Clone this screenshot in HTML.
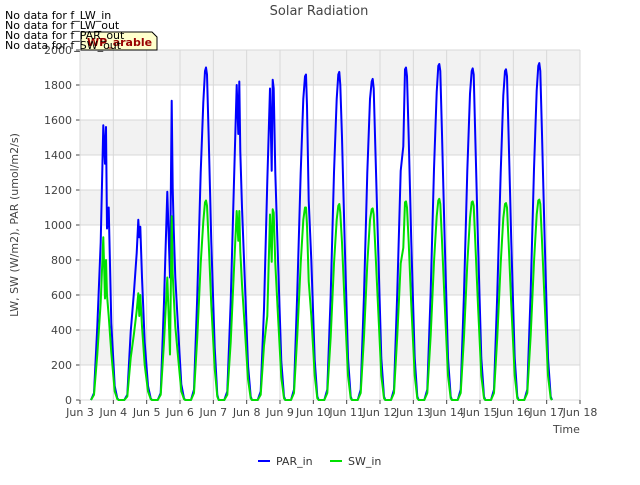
<!DOCTYPE html>
<html><head><meta charset="utf-8"><style>
body{margin:0;background:#fff;font-family:"Liberation Sans","DejaVu Sans",sans-serif}
</style></head><body>
<svg id="c" width="640" height="480" style="font-family:'DejaVu Sans','Liberation Sans',sans-serif">
</svg>
<script>
const xTicks=["Jun 3","Jun 4","Jun 5","Jun 6","Jun 7","Jun 8","Jun 9","Jun 10","Jun 11","Jun 12","Jun 13","Jun 14","Jun 15","Jun 16","Jun 17","Jun 18"];
const yTicks=[0,200,400,600,800,1000,1200,1400,1600,1800,2000];
const dayStarts=[3,4,5,6,7,8,9,10,11,12,13,14,15,16];
const hourOffsets=[0.33,0.42,0.52,0.62,0.7,0.75,0.78,0.81,0.86,0.94,1.04,1.12,1.16];
const parDays=[
[0,40,420,900,1570,1350,1560,980,1100,440,80,10,0],
[0,30,390,620,840,1030,930,990,700,330,80,10,0],
[0,40,560,1190,700,1710,1210,980,700,420,90,10,0],
[0,60,600,1300,1700,1880,1900,1860,1500,900,300,30,0],
[0,50,560,1250,1800,1520,1820,1420,1100,700,200,20,0],
[0,50,520,1250,1780,1310,1830,1780,1300,800,220,20,0],
[0,60,620,1300,1720,1850,1860,1680,1140,800,230,20,0],
[0,60,600,1300,1720,1860,1875,1800,1500,900,240,20,0],
[0,60,600,1300,1720,1820,1835,1780,1450,900,240,20,0],
[0,60,620,1310,1450,1890,1900,1850,1500,900,240,20,0],
[0,60,620,1320,1760,1910,1920,1880,1520,910,240,20,0],
[0,60,610,1310,1750,1880,1895,1860,1500,900,240,20,0],
[0,60,610,1300,1740,1880,1890,1850,1490,900,240,20,0],
[0,60,620,1320,1770,1910,1925,1880,1520,910,240,20,0]];
const swDays=[
[0,30,260,560,930,580,800,600,480,270,50,5,0],
[0,20,240,380,510,610,480,600,420,200,50,5,0],
[0,30,330,700,260,1050,720,600,420,250,50,5,0],
[0,40,360,780,1020,1130,1140,1110,900,540,180,20,0],
[0,30,330,750,1080,910,1080,850,660,420,120,10,0],
[0,30,310,480,1060,790,1090,1070,780,480,130,10,0],
[0,40,370,780,1030,1100,1100,1000,680,480,140,10,0],
[0,40,360,780,1030,1110,1120,1070,900,540,140,10,0],
[0,40,360,780,1030,1090,1095,1060,870,540,140,10,0],
[0,40,370,780,870,1130,1135,1100,900,540,140,10,0],
[0,40,370,790,1050,1140,1150,1120,910,550,140,10,0],
[0,40,360,780,1040,1130,1135,1110,900,540,140,10,0],
[0,40,360,780,1040,1120,1125,1100,890,540,140,10,0],
[0,40,370,790,1060,1140,1145,1120,910,550,140,10,0]];
const NS="http://www.w3.org/2000/svg";
const svg=document.getElementById('c');
const L=80,R=580,T=50,B=400;
const xs=d=>L+(d-3)/15*(R-L);
const ys=v=>B-v/2000*(B-T);
function mk(t,a,p){const e=document.createElementNS(NS,t);for(const k in a)e.setAttribute(k,a[k]);(p||svg).appendChild(e);return e;}
// bands
for(let i=0;i<10;i++){
  const b=mk('rect',{x:L,y:ys(yTicks[i+1]),width:R-L,height:ys(yTicks[i])-ys(yTicks[i+1]),fill:i%2==1?'#f2f2f2':'#ffffff'});
  
  
}
yTicks.forEach(v=>{
  const g=mk('line',{x1:L,x2:R,y1:ys(v),y2:ys(v),stroke:'#d8d8d8','stroke-width':1});
  
  
  const tk=mk('line',{x1:L-4,x2:L,y1:ys(v),y2:ys(v),stroke:'#444'});
  
  
  const t=mk('text',{x:L-8,y:ys(v)+4,'text-anchor':'end','font-size':11,fill:'#444'});
  t.textContent=v;
  
  
});
xTicks.forEach((s,i)=>{
  const x=xs(3+i);
  const g=mk('line',{x1:x,x2:x,y1:T,y2:B,stroke:'#d8d8d8'});
  
  
  const tk=mk('line',{x1:x,x2:x,y1:B,y2:B+4,stroke:'#444'});
  
  
  const t=mk('text',{x:x,y:B+16,'text-anchor':'middle','font-size':11,fill:'#444'});
  t.textContent=s;
  
  
});
function series(days,color,name){
  let d='';
  dayStarts.forEach((ds,i)=>{days[i].forEach((v,j)=>{d+=(d?'L':'M')+xs(ds+hourOffsets[j]).toFixed(1)+','+ys(v).toFixed(1);});});
  const p=mk('path',{d:d,fill:'none',stroke:color,'stroke-width':2,'stroke-linejoin':'round'});
  
  
}
series(parDays,'#0000ff','par-in-line');
series(swDays,'#00e000','sw-in-line');
function txt(s,a,name){const t=mk('text',a);t.textContent=s;return t;}
txt('Solar Radiation',{x:319,y:15,'text-anchor':'middle','font-size':13,fill:'#444'},'chart-title');
txt('Time',{x:553,y:433,'font-size':11,fill:'#444'},'x-axis-title');
txt('LW, SW (W/m2), PAR (umol/m2/s)',{x:18,y:225,'text-anchor':'middle','font-size':11,fill:'#444',transform:'rotate(-90 18 225)'},'y-axis-title');
const bx=mk('path',{d:'M81,32 L152,32 L157,37 L157,50 L81,50 Z',fill:'#ffffcc',stroke:'#000'});


txt('WP_arable',{x:87,y:46,'font-size':11,'font-weight':'bold',fill:'#990000'},'wp-arable-label');
['No data for f_LW_in','No data for f_LW_out','No data for f_PAR_out','No data for f_SW_out'].forEach((s,i)=>txt(s,{x:5,y:19+i*10,'font-size':11,fill:'#000'},'no-data-note'));
const l1=mk('line',{x1:258,x2:270,y1:461,y2:461,stroke:'#0000ff','stroke-width':2});


txt('PAR_in',{x:276,y:465,'font-size':11,fill:'#333'},'legend-par-label');
const l2=mk('line',{x1:330,x2:342,y1:461,y2:461,stroke:'#00e000','stroke-width':2});


txt('SW_in',{x:348,y:465,'font-size':11,fill:'#333'},'legend-sw-label');
</script>
</body></html>
